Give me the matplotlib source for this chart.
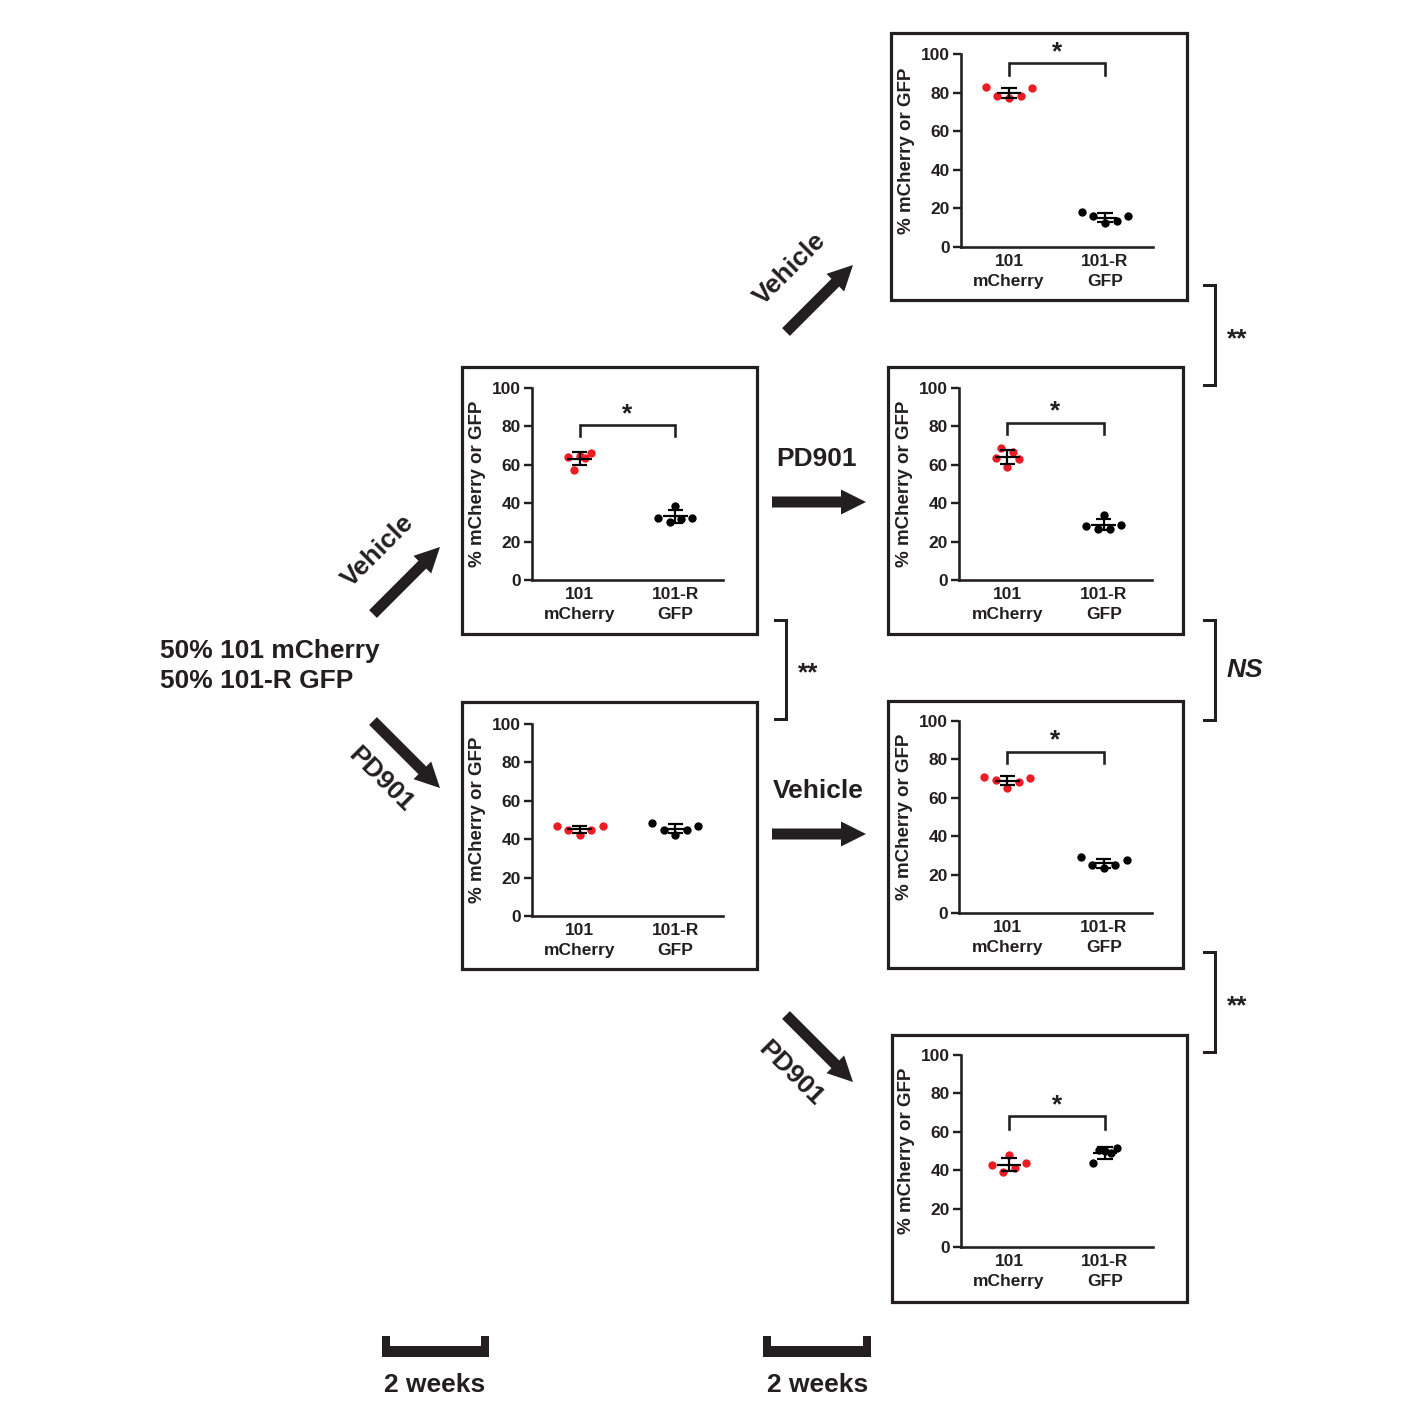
import numpy as np
import matplotlib
matplotlib.use("Agg")
import matplotlib.pyplot as plt
from matplotlib.patches import Rectangle, FancyArrow, Polygon
from matplotlib.lines import Line2D

plt.rcParams['font.family'] = ['Liberation Sans', 'DejaVu Sans']
plt.rcParams['font.weight'] = 'bold'

# ---------------- data ----------------
categories = ["101\nmCherry", "101-R\nGFP"]
ylabel = "% mCherry or GFP"
yticks = [0, 20, 40, 60, 80, 100]

# values per panel, left-to-right order of the dots
p1_mcherry = [82.8, 78.3, 77.3, 78.0, 82.3]
p1_gfp = [17.9, 16.1, 12.5, 13.5, 16.3]
p2_mcherry = [64.3, 57.4, 64.5, 63.3, 66.1]
p2_gfp = [32.5, 30.1, 38.8, 31.8, 32.5]
p3_mcherry = [47.0, 44.7, 42.1, 44.7, 47.0]
p3_gfp = [48.5, 45.0, 42.4, 44.9, 47.0]
p4_mcherry = [63.8, 68.5, 59.0, 66.8, 63.0]
p4_gfp = [27.9, 26.8, 33.7, 26.8, 28.4]
p5_mcherry = [70.9, 69.5, 65.0, 68.3, 70.5]
p5_gfp = [29.3, 25.0, 23.4, 24.8, 27.4]
p6_mcherry = [42.9, 38.9, 47.8, 41.2, 43.9]
p6_gfp = [43.9, 50.7, 49.8, 49.0, 51.6]

# significance bracket heights (top, leg end, star) per panel; None = no bracket
p1_sig = (95.3, 89.0, 101.0)
p2_sig = (80.9, 74.8, 86.5)
p3_sig = None
p4_sig = (81.8, 75.8, 87.8)
p5_sig = (84.0, 78.0, 90.0)
p6_sig = (68.0, 61.4, 74.0)
sig_label = "*"

start_label = "50% 101 mCherry\n50% 101-R GFP"
treat_vehicle = "Vehicle"
treat_pd = "PD901"
scale_label = "2 weeks"
between_labels = ["**", "NS", "**", "**"]

# ---------------- style / layout ----------------
W = H = 1425
DARK = "#231F20"
RED = "#ED1C24"
jit = {
    "wide": np.array([-0.24, -0.12, 0, 0.12, 0.24]),
    "narrow": np.array([-0.12, -0.06, 0, 0.06, 0.12]),
    "split": np.array([-0.18, -0.06, 0, 0.06, 0.18]),
}

panels = [
    dict(ax=(961, 1153, 54, 247), box=(891, 1187, 33, 300),
         data=(p1_mcherry, p1_gfp), jit=("wide", "wide"), sig=p1_sig),
    dict(ax=(532, 723, 388, 580), box=(462, 757, 367, 634),
         data=(p2_mcherry, p2_gfp), jit=("narrow", "split"), sig=p2_sig),
    dict(ax=(532, 723, 724, 916), box=(462, 757, 702, 969),
         data=(p3_mcherry, p3_gfp), jit=("wide", "wide"), sig=p3_sig),
    dict(ax=(959, 1152, 388, 580), box=(888, 1183, 367, 634),
         data=(p4_mcherry, p4_gfp), jit=("narrow", "split"), sig=p4_sig),
    dict(ax=(959, 1152, 721, 913), box=(888, 1183, 701, 968),
         data=(p5_mcherry, p5_gfp), jit=("wide", "wide"), sig=p5_sig),
    dict(ax=(961, 1153, 1055, 1247), box=(892, 1187, 1035, 1302),
         data=(p6_mcherry, p6_gfp), jit=("split", "narrow"), sig=p6_sig),
]

fig = plt.figure(figsize=(W / 100, H / 100), dpi=100)
fig.patch.set_facecolor("white")

# overlay axes in pixel coordinates
ov = fig.add_axes([0, 0, 1, 1])
ov.set_xlim(0, W)
ov.set_ylim(H, 0)
ov.axis("off")
ov.set_zorder(0)

px = 72 / 100  # points per pixel

# boxes
for p in panels:
    x0, x1, y0, y1 = p["box"]
    ov.add_patch(Rectangle((x0, y0), x1 - x0, y1 - y0, fill=False,
                           lw=3.2 * px, ec=DARK))

# arrows
arrows = [
    ((373, 614), (440, 547)),
    ((373, 721), (440, 788)),
    ((772, 502), (866, 502)),
    ((772, 834), (866, 834)),
    ((786, 332), (853, 265)),
    ((786, 1015), (853, 1082)),
]
for (xa, ya), (xb, yb) in arrows:
    ov.add_patch(FancyArrow(xa, ya, xb - xa, yb - ya, width=11, head_width=25,
                            head_length=25, length_includes_head=True,
                            color=DARK, lw=0))

big = 19
ov.text(160, 666, start_label, fontsize=big, color=DARK, ha="left", va="center",
        linespacing=1.3)
ov.text(378, 551, treat_vehicle, fontsize=big, rotation=45, color=DARK,
        ha="center", va="center", rotation_mode="anchor")
ov.text(381, 780, treat_pd, fontsize=big, rotation=-45, color=DARK,
        ha="center", va="center", rotation_mode="anchor")
ov.text(817, 459, treat_pd, fontsize=big, color=DARK, ha="center", va="center")
ov.text(818, 791, treat_vehicle, fontsize=big, color=DARK, ha="center", va="center")
ov.text(790, 269, treat_vehicle, fontsize=big, rotation=45, color=DARK,
        ha="center", va="center", rotation_mode="anchor")
ov.text(791, 1074, treat_pd, fontsize=big, rotation=-45, color=DARK,
        ha="center", va="center", rotation_mode="anchor")

# between-panel brackets
brackets = [(1215, 285, 385), (1215, 620, 720), (1215, 952, 1052), (786, 620, 719)]
for (bx, by0, by1), lab in zip(brackets, between_labels):
    ov.add_line(Line2D([bx - 11, bx, bx, bx - 11], [by0, by0, by1, by1],
                       lw=3 * px, color=DARK, solid_joinstyle="miter"))
    style = "italic" if lab == "NS" else "normal"
    ov.text(bx + 12, (by0 + by1) / 2 + (4 if lab != "NS" else 0), lab,
            fontsize=19, style=style, color=DARK, ha="left", va="center")

# scale bars
for (sx0, sx1), tx in [((382, 489), 435), ((763, 871), 818)]:
    pts = [(sx0, 1336), (sx0 + 8, 1336), (sx0 + 8, 1346), (sx1 - 8, 1346),
           (sx1 - 8, 1336), (sx1, 1336), (sx1, 1357), (sx0, 1357)]
    ov.add_patch(Polygon(pts, closed=True, color=DARK, lw=0))
    ov.text(tx, 1385, scale_label, fontsize=big, color=DARK, ha="center",
            va="center")

# panels
for p in panels:
    x0, x1, yt, yb = p["ax"]
    a = fig.add_axes([x0 / W, 1 - yb / H, (x1 - x0) / W, (yb - yt) / H])
    a.set_facecolor("none")
    a.set_xlim(-0.5, 1.5)
    a.set_ylim(0, 100)
    for s in ["top", "right"]:
        a.spines[s].set_visible(False)
    for s in ["left", "bottom"]:
        a.spines[s].set_linewidth(2.6 * px)
        a.spines[s].set_color(DARK)
    a.set_yticks(yticks)
    a.set_yticklabels([str(t) for t in yticks], fontsize=12.5, fontweight="bold",
                      color=DARK)
    a.tick_params(axis="y", length=6, width=2.4 * px, color=DARK, pad=2)
    a.set_xticks([0, 1])
    a.set_xticklabels(categories, fontsize=12.5, fontweight="bold", color=DARK,
                      linespacing=1.4)
    a.tick_params(axis="x", length=0, pad=5)
    a.set_ylabel(ylabel, fontsize=13.5, fontweight="bold", color=DARK, labelpad=4)

    for i, (vals, col, jk) in enumerate(zip(p["data"], [RED, "black"], p["jit"])):
        vals = np.array(vals)
        xs = i + jit[jk]
        a.plot(xs, vals, "o", ms=6, color=col, mec="none", zorder=3, clip_on=False)
        m = vals.mean()
        sd = vals.std(ddof=1)
        lw = 2.2 * px
        a.vlines(i, m - sd, m + sd, color="black", lw=lw, zorder=4)
        a.hlines([m - sd, m + sd], i - 0.08, i + 0.08, color="black", lw=lw, zorder=4)
        a.hlines(m, i - 0.13, i + 0.13, color="black", lw=lw, zorder=4)

    if p["sig"] is not None:
        top, leg, star = p["sig"]
        a.plot([0, 0, 1, 1], [leg, top, top, leg], color=DARK, lw=2.6 * px,
               clip_on=False, solid_joinstyle="miter", zorder=2)
        a.text(0.5, star, sig_label, fontsize=19, color=DARK, ha="center",
               va="center", clip_on=False)

fig.savefig("out.png", dpi=100, facecolor="white")
